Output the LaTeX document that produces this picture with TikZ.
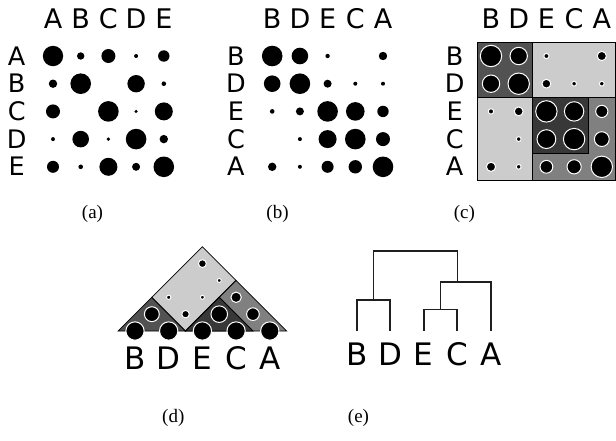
\documentclass[tikz,border=0pt]{standalone}
\usepackage{fontspec}
\setmainfont{Liberation Serif}
\newfontfamily\labfont{DejaVu Sans}
\definecolor{gA}{HTML}{525252}
\definecolor{gB}{HTML}{383838}
\definecolor{gC}{HTML}{808080}
\definecolor{gD}{HTML}{CCCCCC}
\begin{document}
\begin{tikzpicture}[x=1pt,y=-1pt,
  hdr/.style={anchor=base, inner sep=0pt, font=\labfont\fontsize{27}{27}\selectfont},
  rowlab/.style={anchor=base, inner sep=0pt, font=\labfont\fontsize{25.5}{25.5}\selectfont},
  biglab/.style={anchor=base, inner sep=0pt, font=\labfont\fontsize{31}{31}\selectfont},
  capt/.style={anchor=base, inner sep=0pt, font=\fontsize{19}{19}\selectfont},
  blk/.style={draw=black, line width=0.8pt},
  odot/.style={fill=black, draw=white, line width=1pt},
  tree/.style={draw=black!88, line width=1.6pt}
]
\useasboundingbox (0,0) rectangle (616,440);

% ---------- (a) ----------
\begin{scope}[shift={(25.3,28.3)}, x=27.7pt, y=-27.7pt]
  \foreach \l [count=\i] in {A,B,C,D,E} {
    \node[hdr] (ah\l) at (\i,0) {\l};
    \node[rowlab] (ar\l) at (-0.31,\i+0.325) {\l};
  }
  \foreach \c/\r/\s in {1/1/10.2, 2/1/3.7, 3/1/7, 4/1/2, 5/1/5.7,
                        1/2/4.2, 2/2/10.3, 4/2/8.7, 5/2/2.3,
                        1/3/7, 3/3/10.3, 4/3/1.7, 5/3/9,
                        1/4/2, 2/4/8.3, 3/4/1.8, 4/4/10.3, 5/4/4.2,
                        1/5/6, 2/5/2.3, 3/5/9, 4/5/4, 5/5/10.3}
    \fill (\c,\r) circle[radius={\s*1pt}];
\end{scope}

% ---------- (b) ----------
\begin{scope}[shift={(244.5,28.3)}, x=27.7pt, y=-27.7pt]
  \foreach \l [count=\i] in {B,D,E,C,A} {
    \node[hdr] (bh\l) at (\i,0) {\l};
    \node[rowlab] (br\l) at (-0.31,\i+0.325) {\l};
  }
  \foreach \c/\r/\s in {1/1/10.3, 2/1/8.3, 3/1/2.2, 5/1/4.2,
                        1/2/8.3, 2/2/10.3, 3/2/4, 4/2/2, 5/2/2,
                        1/3/2.3, 2/3/4, 3/3/10.3, 4/3/9.3, 5/3/5.7,
                        2/4/2, 3/4/9, 4/4/10.3, 5/4/7,
                        1/5/4.2, 2/5/2, 3/5/6, 4/5/6.7, 5/5/10.3}
    \fill (\c,\r) circle[radius={\s*1pt}];
\end{scope}

% ---------- (c) ----------
\begin{scope}[shift={(463.3,28.3)}, x=27.7pt, y=-27.7pt]
  \foreach \l [count=\i] in {B,D,E,C,A} {
    \node[hdr] (ch\l) at (\i,0) {\l};
    \node[rowlab] (cr\l) at (-0.31,\i+0.325) {\l};
  }
  \filldraw[blk, fill=gA] (0.5,0.5) rectangle (2.5,2.5);
  \filldraw[blk, fill=gD] (2.5,0.5) rectangle (5.5,2.5);
  \filldraw[blk, fill=gD] (0.5,2.5) rectangle (2.5,5.5);
  \filldraw[blk, fill=gC] (2.5,2.5) rectangle (5.5,5.5);
  \filldraw[blk, fill=gB] (2.5,2.5) rectangle (4.5,4.5);
  \foreach \c/\r/\s in {1/1/10.3, 2/1/8.3, 3/1/2.2, 5/1/4.2,
                        1/2/8.3, 2/2/10.3, 3/2/4, 4/2/2, 5/2/2,
                        1/3/2.3, 2/3/4, 3/3/10.3, 4/3/9.3, 5/3/5.7,
                        2/4/2, 3/4/9, 4/4/10.3, 5/4/7,
                        1/5/4.2, 2/5/2, 3/5/6, 4/5/6.7, 5/5/10.3}
    \filldraw[odot] (\c,\r) circle[radius={(\s+0.4)*1pt}];
\end{scope}

% ---------- (d) ----------
\begin{scope}[shift={(118.15,331)}, x={(16.85pt,16.85pt)}, y={(16.85pt,-16.85pt)}]
  \filldraw[blk, fill=gA] (0,0) -- (2,0) -- (2,2) -- cycle;
  \filldraw[blk, fill=gD] (2,0) -- (5,0) -- (5,2) -- (2,2) -- cycle;
  \filldraw[blk, fill=gC] (2,2) -- (5,2) -- (5,5) -- cycle;
  \filldraw[blk, fill=gB] (2,2) -- (4,2) -- (4,4) -- cycle;
  \foreach \c/\r/\s in {1/1/10.3, 2/1/8.3, 3/1/2.2, 5/1/4.2,
                        2/2/10.3, 3/2/4, 4/2/2, 5/2/2,
                        3/3/10.3, 4/3/9.3, 5/3/5.7,
                        4/4/10.3, 5/4/7,
                        5/5/10.3}
    \filldraw[odot] (\c-0.5,\r-0.5) circle[radius={(0.86*\s+0.3)*1pt}];
\end{scope}
\foreach \l/\x in {B/135, D/168.85, E/202.55, C/236.25, A/269.95}
  \node[biglab] (d\l) at (\x,369.3) {\l};

% ---------- (e) ----------
\coordinate (lB) at (356.7,330.5);
\coordinate (lD) at (390.2,330.5);
\coordinate (lE) at (423.7,330.5);
\coordinate (lC) at (457.2,330.5);
\coordinate (lA) at (490.8,330.5);
\coordinate (jBD) at (373.45,300);
\coordinate (jEC) at (440.45,309.3);
\coordinate (jECA) at (457.5,281.7);
\coordinate (root) at (415,251);
\draw[tree] (lB) |- (jBD) -| (lD);
\draw[tree] (lE) |- (jEC) -| (lC);
\draw[tree] (jEC) |- (jECA) -| (lA);
\draw[tree] (jBD) |- (root) -| (jECA);
\foreach \l/\x in {B/356.7, D/390.2, E/423.7, C/457.2, A/490.8}
  \node[biglab] (e\l) at (\x,365) {\l};

% ---------- captions ----------
\node[capt] (capa) at (92.5,218) {(a)};
\node[capt] (capb) at (277.5,218) {(b)};
\node[capt] (capc) at (464.3,218) {(c)};
\node[capt] (capd) at (173.3,422) {(d)};
\node[capt] (cape) at (358.5,422) {(e)};
\end{tikzpicture}
\end{document}
